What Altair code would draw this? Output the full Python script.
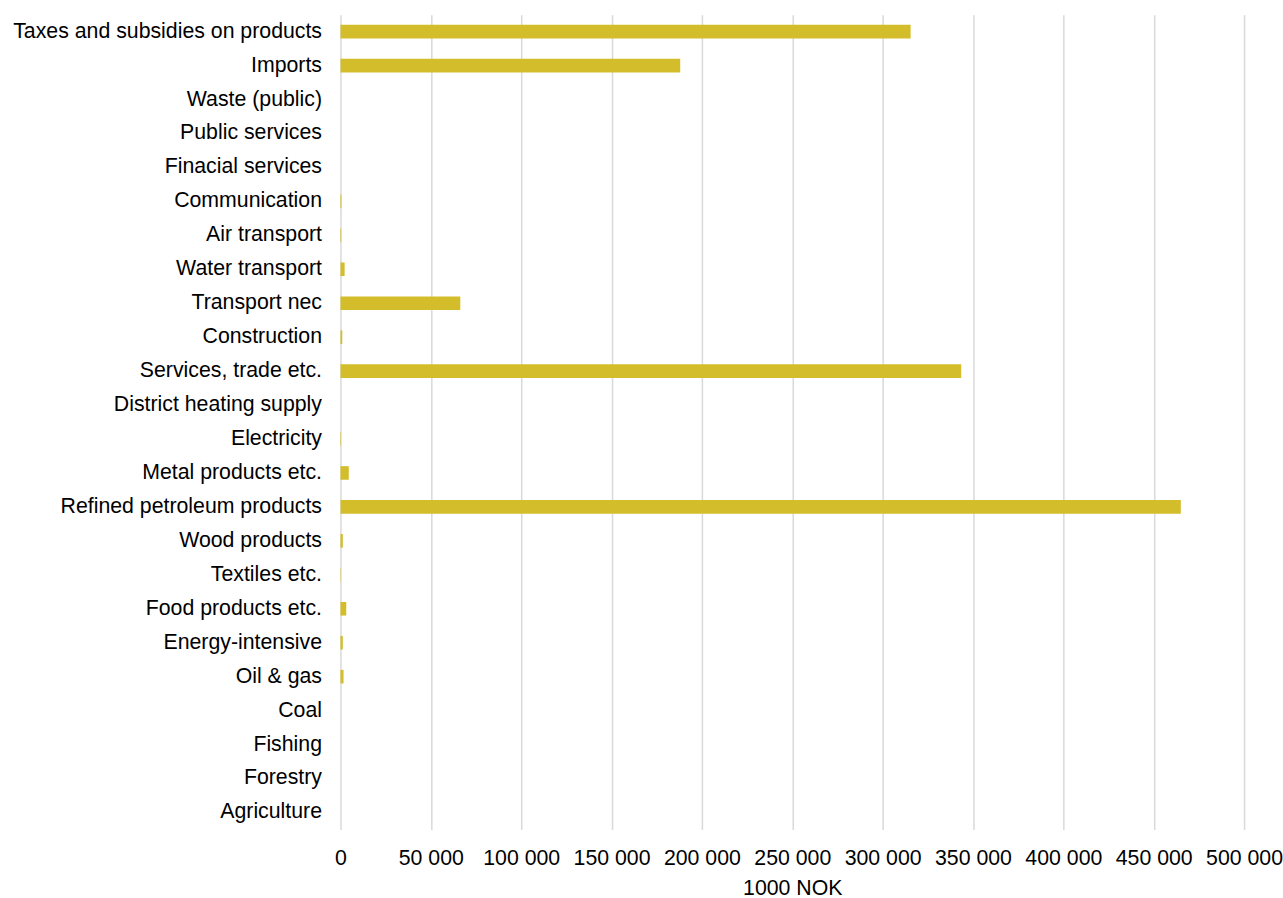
import altair as alt
import pandas as pd

# Sectors from top to bottom, with value in 1000 NOK
sectors = [
    "Taxes and subsidies on products", "Imports", "Waste (public)", "Public services",
    "Finacial services", "Communication", "Air transport", "Water transport",
    "Transport nec", "Construction", "Services, trade etc.", "District heating supply",
    "Electricity", "Metal products etc.", "Refined petroleum products", "Wood products",
    "Textiles etc.", "Food products etc.", "Energy-intensive", "Oil & gas",
    "Coal", "Fishing", "Forestry", "Agriculture",
]
values = [
    315500, 188000, 0, 0,
    0, 500, 400, 2300,
    66300, 1000, 343500, 0,
    300, 4600, 465000, 1300,
    200, 3200, 1300, 1700,
    0, 0, 0, 0,
]
x_ticks = list(range(0, 500001, 50000))

df = pd.DataFrame({"sector": sectors, "value": values})

FONT = "Liberation Sans"

chart = (
    alt.Chart(df)
    .mark_bar(color="#D4BD2B")
    .encode(
        x=alt.X(
            "value:Q",
            title="1000 NOK",
            scale=alt.Scale(domain=[0, 500000], nice=False),
            axis=alt.Axis(
                values=x_ticks,
                labelExpr="replace(format(datum.value, ','), /,/g, ' ')",
                labelOverlap=False,
                labelFlush=False,
                grid=True,
                gridColor="#D9D9D9",
                gridWidth=1.5,
                domain=False,
                ticks=False,
                labelPadding=18,
                titlePadding=9,
                labelFontSize=21.33,
                titleFontSize=21.33,
                titleFontWeight="normal",
                labelColor="#000000",
                titleColor="#000000",
                labelFont=FONT,
                titleFont=FONT,
            ),
        ),
        y=alt.Y(
            "sector:N",
            sort=sectors,
            title=None,
            scale=alt.Scale(paddingInner=0.6, paddingOuter=0.3),
            axis=alt.Axis(
                domain=False,
                ticks=False,
                grid=False,
                labelPadding=19,
                labelFontSize=21.33,
                labelColor="#000000",
                labelFont=FONT,
                labelLimit=500,
            ),
        ),
    )
    .properties(
        width=905,
        height=816,
        background="white",
        padding={"left": 12, "top": 14, "right": 0, "bottom": 0},
    )
    .configure_view(strokeWidth=0)
)

chart.save("out.html", embed_options={"renderer": "svg", "actions": False})
